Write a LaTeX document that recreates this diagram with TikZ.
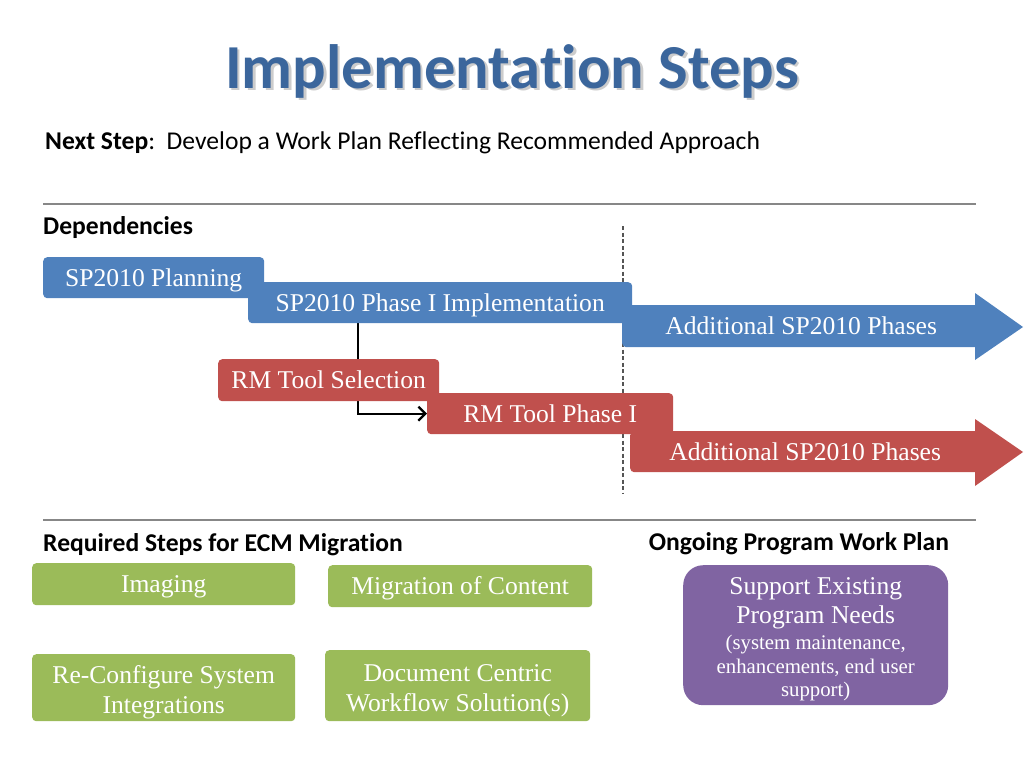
\documentclass[tikz,border=0pt]{standalone}
\usepackage{fontspec}
\setmainfont{Liberation Serif}
\newfontfamily\calfont[Ligatures=NoCommon]{Carlito}
\usetikzlibrary{arrows.meta,backgrounds}
\definecolor{tblue}{HTML}{4F81BD}
\definecolor{tred}{HTML}{C0504D}
\definecolor{tgreen}{HTML}{9BBB59}
\definecolor{tpurple}{HTML}{8064A2}
\definecolor{ttitle}{HTML}{3B669C}
\definecolor{rulegray}{HTML}{878787}
\definecolor{dashgray}{HTML}{555555}
\begin{document}
\begin{tikzpicture}[x=1pt,y=-1pt,
  box/.style={rounded corners=4pt, inner sep=0pt, anchor=north west, text=white,
    font=\fontsize{25.6}{30}\selectfont, text height=17pt, text depth=0pt},
  boxtwo/.style={rounded corners=4pt, inner sep=0pt, anchor=north west, text=white,
    font=\fontsize{25.6}{30}\selectfont, align=center},
  head/.style={font=\calfont\bfseries\fontsize{25.6}{30}\selectfont, inner sep=0pt},
  titlefont/.style={font=\calfont\bfseries\fontsize{62.6}{70}\selectfont, inner sep=0pt, anchor=base},
  rulestyle/.style={draw=rulegray, line width=1.5pt},
  biglines/.style={text=white, font=\fontsize{25.6}{30}\selectfont, inner sep=0pt, anchor=base},
  smalllines/.style={text=white, font=\fontsize{20.8}{24}\selectfont, inner sep=0pt, anchor=base},
]
\useasboundingbox (0,0) rectangle (1024,768);

% title with soft shadow
\node[titlefont, text=black, opacity=0.2] (tshadow) at (514.5,90.5) {Implementation Steps};
\node[titlefont, text=ttitle] (title) at (512,88) {Implementation Steps};

\node[font=\calfont\fontsize{25.6}{30}\selectfont, anchor=base west, inner sep=0pt] (next) at (45,149)
  {\textbf{Next Step}:\ \ Develop a Work Plan Reflecting Recommended Approach};

% rules
\draw[rulestyle] (43,204) -- (976,204);
\draw[rulestyle] (43,520) -- (976,520);

% headings
\node[head, anchor=base west] (dep) at (43,234) {Dependencies};
\node[head, anchor=base west] (req) at (43,551) {Required Steps for ECM Migration};
\node[head, anchor=base] (ong) at (799,550) {Ongoing Program Work Plan};

% dashed divider
\draw[dashgray, line width=1.1pt, dash pattern=on 4pt off 2.5pt] (623,226) -- (623,494);

% blue track
\node[box, fill=tblue, minimum width=221pt, minimum height=41pt] (sp1) at (43,257) {SP2010 Planning};
\node[box, fill=tblue, minimum width=384pt, minimum height=41pt] (sp2) at (248,282) {SP2010 Phase I Implementation};
\node[box, fill=tblue, minimum width=358pt, minimum height=42pt] (add1) at (622,305) {Additional SP2010 Phases};
\fill[tblue] (975,293) -- (1023,327) -- (975,360) -- cycle;

% red track
\node[box, fill=tred, minimum width=221pt, minimum height=42pt] (rm1) at (218,359) {RM Tool Selection};
\node[box, fill=tred, minimum width=246pt, minimum height=41pt] (rm2) at (427,393) {RM Tool Phase I};
\node[box, fill=tred, minimum width=350pt, minimum height=41pt] (add2) at (630,431) {Additional SP2010 Phases};
\fill[tred] (975,419) -- (1023,452) -- (975,486) -- cycle;

% dependency connector (behind the red boxes)
\begin{pgfonlayer}{background}
\draw[line width=2.3pt, -{Straight Barb[length=7pt,width=14pt,line width=2.3pt]}]
  ([xshift=-82pt]sp2.south) |- (rm2.west);
\end{pgfonlayer}

% green boxes
\node[box, fill=tgreen, minimum width=263pt, minimum height=42pt] (img) at (32,563) {Imaging};
\node[box, fill=tgreen, minimum width=264pt, minimum height=42pt] (mig) at (328,565) {Migration of Content};
\node[boxtwo, fill=tgreen, minimum width=263pt, minimum height=67pt] (recon) at (32,654) {\rule{0pt}{27.7pt}Re-Configure System\\Integrations};
\node[boxtwo, fill=tgreen, minimum width=265pt, minimum height=71pt] (doc) at (325,650) {\rule{0pt}{27.7pt}Document Centric\\Workflow Solution(s)};

% purple box
\node[fill=tpurple, rounded corners=20pt, minimum width=265pt, minimum height=140pt,
  anchor=north west, inner sep=0pt] (sup) at (683,565) {};
\node[biglines] (s1) at (sup.north |- 0,594) {Support Existing};
\node[biglines] (s2) at (sup.north |- 0,623) {Program Needs};
\node[smalllines] (s3) at (sup.north |- 0,649) {(system maintenance,};
\node[smalllines] (s4) at (sup.north |- 0,673) {enhancements, end user};
\node[smalllines] (s5) at (sup.north |- 0,696) {support)};
\end{tikzpicture}
\end{document}
